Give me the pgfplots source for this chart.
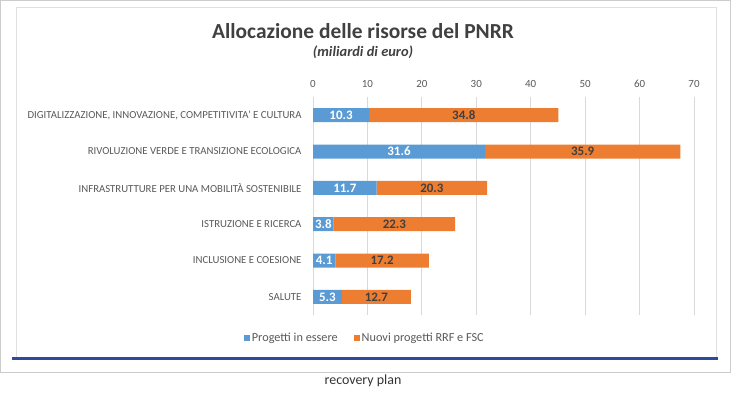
\documentclass[border=0pt]{standalone}
\usepackage{pgfplots}
\pgfplotsset{compat=1.18}
\usepackage{pgfplotstable}
\usepackage{fontspec}
\setmainfont{Carlito}
\definecolor{barblue}{HTML}{5B9BD5}
\definecolor{barorange}{HTML}{ED7D31}
\definecolor{txtgray}{HTML}{595959}
\definecolor{titlegray}{HTML}{404040}
\definecolor{gridgray}{HTML}{D9D9D9}
\definecolor{lineblue}{HTML}{2E4A9E}
\pgfplotstableread{
i v
0 10.3
1 31.6
2 11.7
3 3.8
4 4.1
5 5.3
}\essere
\pgfplotstableread{
i v
0 34.8
1 35.9
2 20.3
3 22.3
4 17.2
5 12.7
}\nuovi
\begin{document}
\begin{tikzpicture}[x=1bp,y=1bp]
\path[use as bounding box] (0,0) rectangle (746,398);
\draw[black!20, line width=1bp] (0.5,26) -- (0.5,397.5) -- (730.5,397.5) -- (730.5,26) -- cycle;
\draw[black!12, line width=1bp] (16,40) -- (16,390) -- (716,390) -- (716,40);
\draw[lineblue, line width=3bp] (12,39.5) -- (718,39.5);
\node[font=\bfseries\fontsize{21.5}{24}\selectfont, text=titlegray] at (363,367) {Allocazione delle risorse del PNRR};
\node[font=\bfseries\itshape\fontsize{14.5}{16}\selectfont, text=titlegray] at (363,346) {(miliardi di euro)};
\node[font=\fontsize{14}{16}\selectfont, text=black!80] at (363,17) {recovery plan};
\begin{axis}[
  at={(313bp,83bp)}, anchor=south west,
  width=381bp, height=218bp, scale only axis,
  xmin=0, xmax=70, ymin=-0.5, ymax=5.5, y dir=reverse,
  xbar stacked, bar width=14bp, clip=false,
  xtick={0,10,...,70}, xticklabel pos=upper,
  xmajorgrids, grid style={gridgray, line width=0.8bp},
  axis line style={draw=none}, major tick length=0pt,
  ytick={0,...,5},
  yticklabels={{DIGITALIZZAZIONE, INNOVAZIONE, COMPETITIVITA' E CULTURA},
    {RIVOLUZIONE VERDE E TRANSIZIONE ECOLOGICA},
    {INFRASTRUTTURE PER UNA MOBILITÀ SOSTENIBILE},
    {ISTRUZIONE E RICERCA},
    {INCLUSIONE E COESIONE},
    {SALUTE}},
  yticklabel style={font=\fontsize{10.8}{12}\selectfont, text=txtgray, xshift=-8bp},
  xticklabel style={font=\fontsize{11}{12}\selectfont, text=txtgray, yshift=6bp},
  /pgf/number format/assume math mode=true,
  point meta=explicit,
  nodes near coords={\pgfmathprintnumber[fixed,precision=1,fixed zerofill]{\pgfplotspointmeta}},
  every node near coord/.append style={anchor=center, font=\bfseries\fontsize{13}{14}\selectfont},
  legend columns=2,
  legend style={at={(0.136,-0.105)}, anchor=center, draw=none, fill=none,
    font=\fontsize{12.3}{14}\selectfont, text=txtgray,
    /tikz/every even column/.append style={column sep=14bp}},
  legend image code/.code={\fill[#1] (0bp,-3bp) rectangle (6bp,3bp);},
]
\addplot[fill=barblue, draw=none, every node near coord/.append style={text=white}] table[x=v, y=i, meta=v] {\essere};
\addplot[fill=barorange, draw=none, every node near coord/.append style={text=titlegray}] table[x=v, y=i, meta=v] {\nuovi};
\legend{Progetti in essere, Nuovi progetti RRF e FSC}
\end{axis}
\end{tikzpicture}
\end{document}
